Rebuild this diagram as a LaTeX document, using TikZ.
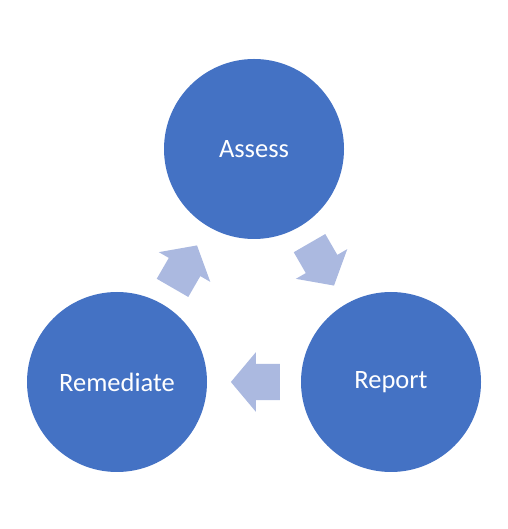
\documentclass[tikz,border=0pt]{standalone}
\usepackage{fontspec}
\setmainfont{Carlito}
\usetikzlibrary{shapes.arrows, calc}

\definecolor{stepblue}{HTML}{4472C4}
\definecolor{flowblue}{HTML}{ABB9E0}

\tikzset{
  stage/.style={circle, fill=stepblue, minimum size=180pt, inner sep=0pt,
    text=white, font=\fontsize{26.5}{30}\selectfont},
  flow/.style={single arrow, fill=flowblue, minimum height=49pt, minimum width=0pt,
    inner xsep=0pt, inner ysep=18pt, single arrow head extend=11.5pt,
    single arrow tip angle=100}
}

\begin{document}
\begin{tikzpicture}[x=1pt, y=1pt]
\useasboundingbox (0,0) rectangle (507,529);
% Cycle stages
\node[stage] (assess) at (254,380) {Assess};
\node[stage] (report) at (391,147) {Report};
\node[stage] (remed) at (117,147) {Remediate};

% Block arrows between stages
\node[flow, rotate=-60] (a2r) at ($($(assess)!0.5!(report)$)!9pt!(assess)$) {};
\node[flow, rotate=180] (r2m) at ($($(report)!0.5!(remed)$)!9pt!(report)$) {};
\node[flow, rotate=60] (m2a) at ($($(remed)!0.5!(assess)$)!9pt!(remed)$) {};
\end{tikzpicture}
\end{document}
